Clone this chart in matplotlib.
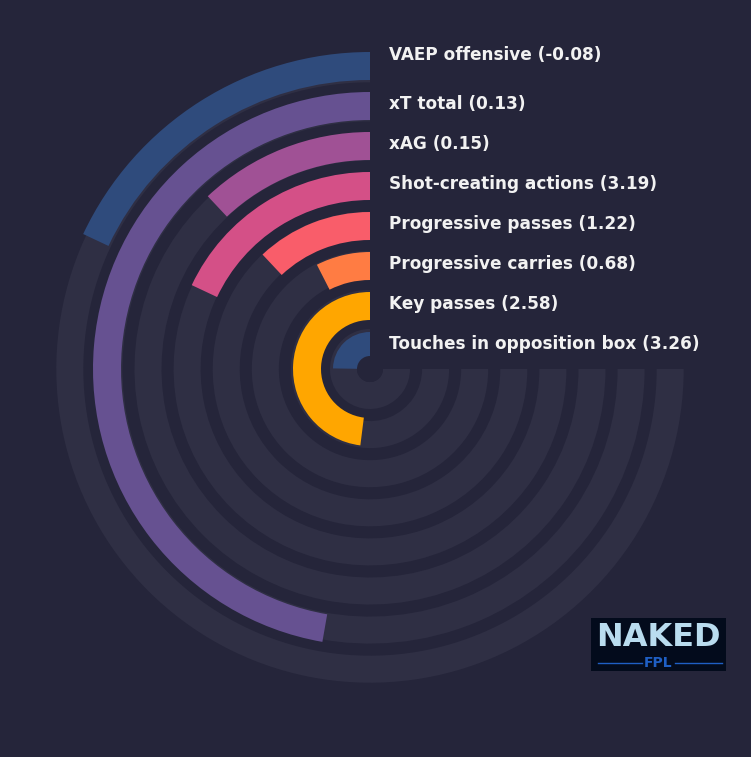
import numpy as np
import matplotlib
matplotlib.use('Agg')
import matplotlib.pyplot as plt

plt.rcParams['font.family'] = ['DejaVu Sans']

# data, outermost ring first
metrics = ['VAEP offensive', 'xT total', 'xAG', 'Shot-creating actions',
           'Progressive passes', 'Progressive carries', 'Key passes',
           'Touches in opposition box']
values = [-0.08, 0.13, 0.15, 3.19, 1.22, 0.68, 2.58, 3.26]
percentiles = [24, 63, 16, 24, 16, 10, 64, 33]

palette = ['#2f4b7c', '#665191', '#a05195', '#d45087',
           '#f95d6a', '#ff7c43', '#ffa600']
bg = '#25253a'
track = '#2f2f44'

W, H = 751, 757
fig = plt.figure(figsize=(W / 100, H / 100), dpi=100, facecolor=bg)

# polar axes in pixel units, centre at (370, 369)
R = 330
cx, cy = 370, 369
ax = fig.add_axes([(cx - R) / W, (H - cy - R) / H, 2 * R / W, 2 * R / H],
                  projection='polar')
ax.set_theta_zero_location('N')
ax.set_theta_direction(1)
ax.set_ylim(0, R)
ax.set_axis_off()
ax.patch.set_alpha(0)

span = 1.5 * np.pi
n = len(metrics)
for i in range(n):
    k = n - 1 - i          # ring index from centre
    # background track
    ax.bar(0, 27, width=span, bottom=13 + 39.1 * k, align='edge',
           color=track, linewidth=0, zorder=1)
    # value bar
    ax.bar(0, 28, width=span * percentiles[i] / 100, bottom=9 + 40 * k,
           align='edge', color=palette[i % len(palette)], linewidth=0,
           zorder=2)
    r_lab = 25 + 40 * k if k < n - 1 else 314
    ax.annotate('%s (%.2f)' % (metrics[i], values[i]), xy=(0, r_lab),
                xytext=(13.5, 0), textcoords='offset points',
                ha='left', va='center', color='#f2f2f2',
                fontsize=12.2, fontweight='bold', zorder=5)

# hole in the middle
ax.bar(0, 13, width=2 * np.pi, bottom=0, align='edge', color=bg,
       linewidth=0, zorder=3)

# logo
lg = fig.add_axes([591 / W, (H - 671) / H, 135 / W, 53 / H])
lg.set_facecolor('#030b1c')
lg.set_xticks([])
lg.set_yticks([])
for s in lg.spines.values():
    s.set_visible(False)
lg.set_xlim(0, 1)
lg.set_ylim(0, 1)
lg.text(0.5, 0.64, 'NAKED', ha='center', va='center', color='#b9dcef',
        fontsize=23, fontweight='bold')
lg.text(0.5, 0.16, 'FPL', ha='center', va='center', color='#1f5fc4',
        fontsize=10, fontweight='bold')
lg.plot([0.05, 0.38], [0.16, 0.16], color='#1f5fc4', lw=1)
lg.plot([0.62, 0.97], [0.16, 0.16], color='#1f5fc4', lw=1)

fig.savefig('out.png', dpi=100, facecolor=bg)
